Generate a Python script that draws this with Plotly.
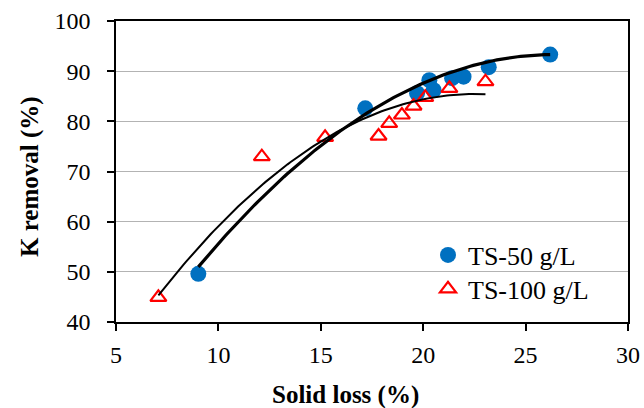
import numpy as np
import plotly.graph_objects as go

# Data
ts50_x = [9.02, 17.17, 19.70, 20.30, 20.51, 21.41, 21.97, 23.20, 26.20]
ts50_y = [49.6, 82.6, 85.6, 88.2, 86.2, 88.6, 88.9, 90.8, 93.3]

ts100_x = [7.07, 12.12, 15.21, 17.82, 18.34, 18.96, 19.53, 20.10, 21.28, 23.04]
ts100_y = [44.9, 72.95, 76.8, 77.07, 79.6, 81.26, 83.05, 84.79, 86.58, 87.9]

# Polynomial (order 2) trendline equations:
# y = c2*x^2 + c1*x + c0
trend_ts50_coef = [-0.1408, 7.422, -4.50]
trend_ts100_coef = [-0.1689, 7.596, 0.04]

x_ticks = [5, 10, 15, 20, 25, 30]
y_ticks = [40, 50, 60, 70, 80, 90, 100]

x_title = "Solid loss (%)"
y_title = "K removal (%)"

FONT = "Liberation Serif"

W, H = 644, 408
L, T, R, B = 116, 21, 16, 86
PW, PH = W - L - R, H - T - B


def px(xp):  # figure px -> paper x
    return (xp - L) / PW


def py(yp):  # figure px -> paper y
    return (H - B - yp) / PH


def trend(xs, coef):
    xx = np.linspace(min(xs), max(xs), 120)
    return xx, np.polyval(coef, xx)


fig = go.Figure()

fig.add_trace(go.Scatter(
    x=ts50_x, y=ts50_y, mode="markers", name="TS-50 g/L", legend="legend",
    marker=dict(symbol="circle", size=16, color="#0070C0"),
))
fig.add_trace(go.Scatter(
    x=ts100_x, y=ts100_y, mode="markers", name="TS-100 g/L", legend="legend2",
    marker=dict(symbol="triangle-up-open", size=14, color="#FF0000",
                line=dict(width=2.2, color="#FF0000")),
))

tx, ty = trend(ts50_x, trend_ts50_coef)
fig.add_trace(go.Scatter(x=tx, y=ty, mode="lines", showlegend=False,
                         line=dict(color="black", width=3.2), hoverinfo="skip"))
tx, ty = trend(ts100_x, trend_ts100_coef)
fig.add_trace(go.Scatter(x=tx, y=ty, mode="lines", showlegend=False,
                         line=dict(color="black", width=2), hoverinfo="skip"))

leg_common = dict(xanchor="left", yanchor="middle", bgcolor="rgba(0,0,0,0)",
                  font=dict(family=FONT, size=26), itemwidth=30, borderwidth=0)

fig.update_layout(
    width=W, height=H,
    margin=dict(l=L, r=R, t=T, b=B, autoexpand=False),
    paper_bgcolor="white", plot_bgcolor="white",
    font=dict(family=FONT, size=22, color="black"),
    showlegend=True,
    legend=dict(x=px(428), y=py(255), **leg_common),
    legend2=dict(x=px(428), y=py(289), **leg_common),
    annotations=[
        dict(text="<b>%s</b>" % x_title, xref="paper", yref="paper",
             x=px(345), y=py(395), xanchor="center", yanchor="middle",
             showarrow=False, font=dict(family=FONT, size=25)),
        dict(text="<b>%s</b>" % y_title, xref="paper", yref="paper",
             x=px(30), y=py(177), xanchor="center", yanchor="middle",
             textangle=-90, showarrow=False, font=dict(family=FONT, size=25)),
    ],
)
fig.update_xaxes(
    range=[5, 30], tickvals=x_ticks, ticktext=[str(v) for v in x_ticks],
    showgrid=False, zeroline=False, automargin=False,
    showline=True, linecolor="black", linewidth=1.5, mirror=True,
    ticks="outside", ticklen=7, tickwidth=1.5, tickcolor="black",
    tickfont=dict(family=FONT, size=24), ticklabelstandoff=3,
)
fig.update_yaxes(
    range=[40, 100], tickvals=y_ticks, ticktext=[str(v) for v in y_ticks],
    showgrid=True, gridcolor="#B3B3B3", gridwidth=1.2, zeroline=False, automargin=False,
    showline=True, linecolor="black", linewidth=1.5, mirror=True,
    ticks="outside", ticklen=7, tickwidth=1.5, tickcolor="black",
    tickfont=dict(family=FONT, size=24), ticklabelstandoff=12,
)

fig.write_html(
    "out.html",
    config={"displayModeBar": False},
    post_script="document.body.style.margin='0';document.body.style.overflow='hidden';",
)
